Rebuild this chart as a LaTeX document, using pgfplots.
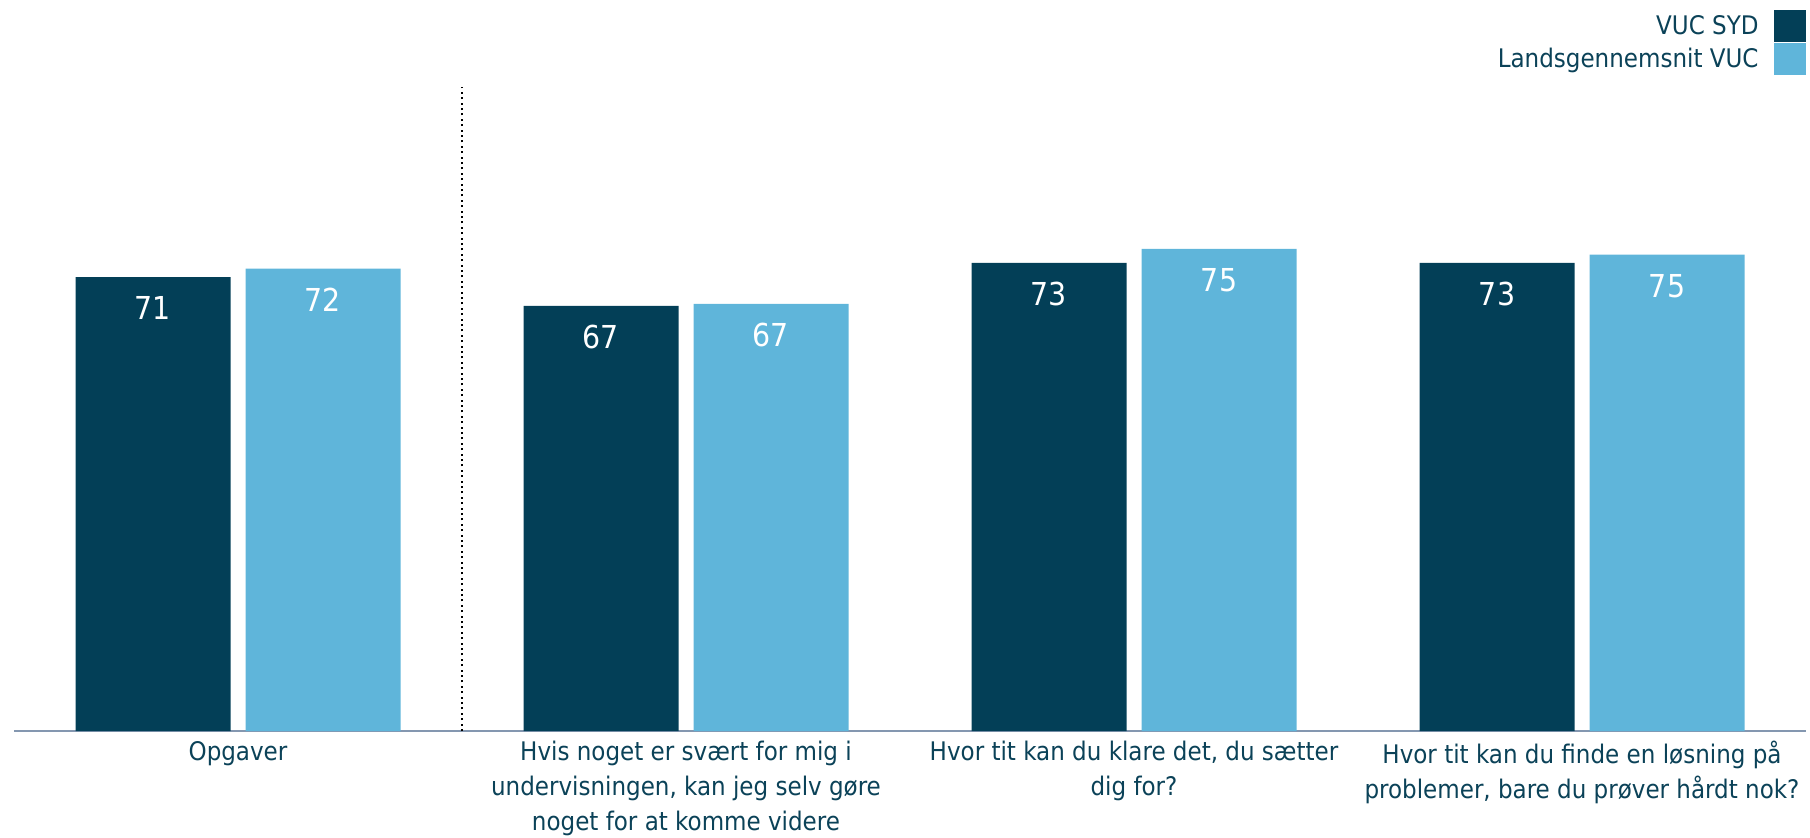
\documentclass[border=0pt]{standalone}
\usepackage{pgfplots}
\pgfplotsset{compat=1.18}
\usepackage{fontspec}
\setmainfont{DejaVu Sans Condensed}
\definecolor{darkbar}{HTML}{033F57}
\definecolor{lightbar}{HTML}{5FB5DA}
\definecolor{textc}{HTML}{0B4258}
\definecolor{axisc}{HTML}{8497B0}
\begin{document}
\begin{tikzpicture}
\path[use as bounding box] (-7pt,-53pt) rectangle (898pt,365.5pt);
\begin{axis}[
  at={(0pt,0pt)}, anchor=south west,
  scale only axis, width=896pt, height=319.25pt,
  xmin=-0.5, xmax=3.5, ymin=0, ymax=100,
  hide y axis,
  axis x line*=bottom,
  x axis line style={draw=axisc, line width=1pt, -},
  xtick={0,1,2,3},
  xticklabels={Opgaver,
    {Hvis noget er svært for mig i\\undervisningen, kan jeg selv gøre\\noget for at komme videre},
    {Hvor tit kan du klare det, du sætter\\dig for?},
    {Hvor tit kan du finde en løsning på\\problemer, bare du prøver hårdt nok?}},
  xtick style={draw=none},
  xticklabel style={align=center, font=\fontsize{12.8}{17.5}\selectfont, text=textc, anchor=north, yshift=-1.5pt},
  clip=false,
  legend plot pos=right,
  legend style={at={(1,1.1308)}, anchor=north east, yshift=-0.5pt, draw=none, fill=none,
    font=\fontsize{12.8}{15}\selectfont, text=textc, row sep=0.2pt, inner sep=0pt,
    /tikz/column sep=7.5pt, nodes={inner sep=0pt}},
  legend cell align=right,
  legend image code/.code={\fill[#1] (0pt,-7.9pt) rectangle (16pt,8.1pt);},
]
\addplot[ybar, bar width=77.5pt, bar shift=-42.5pt, fill=darkbar, draw=none,
  point meta=explicit symbolic, nodes near coords,
  nodes near coords style={anchor=north, xshift=-42.5pt, yshift=-9.5pt, inner sep=0pt, text=white, font=\fontsize{15.8}{18}\selectfont}]
  coordinates {(0,71.1) [71] (1,66.6) [67] (2,73.3) [73] (3,73.3) [73]};
\addlegendentry{VUC SYD}
\addplot[ybar, bar width=77.5pt, bar shift=42.5pt, fill=lightbar, draw=none,
  point meta=explicit symbolic, nodes near coords,
  nodes near coords style={anchor=north, xshift=42.5pt, yshift=-9.5pt, inner sep=0pt, text=white, font=\fontsize{15.8}{18}\selectfont}]
  coordinates {(0,72.4) [72] (1,66.9) [67] (2,75.5) [75] (3,74.6) [75]};
\addlegendentry{Landsgennemsnit VUC}
\addplot[forget plot, sharp plot, no markers, black, line width=1pt, dash pattern=on 1pt off 1.7pt]
  coordinates {(0.5,0) (0.5,100.9)};
\end{axis}
\end{tikzpicture}
\end{document}
